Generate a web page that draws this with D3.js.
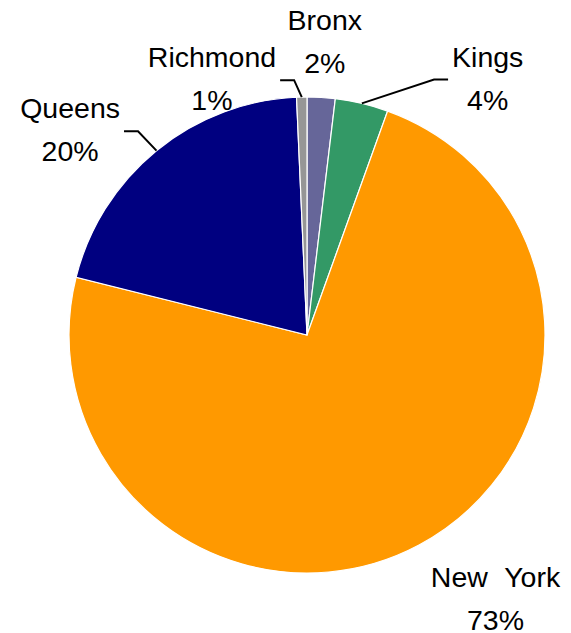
<!DOCTYPE html>
<html>
<head>
<meta charset="utf-8">
<script src="https://cdn.jsdelivr.net/npm/d3@7"></script>
<style>
  body { margin: 0; background: #fff; }
  text { font-family: "Liberation Sans", Arial, sans-serif; font-size: 28.5px; fill: #000; }
</style>
</head>
<body>
<svg width="571" height="633"></svg>
<script>
// borough shares, clockwise from 12 o'clock
var boroughs = ["Bronx", "Kings", "New York", "Queens", "Richmond"];
var shares = [1.9, 3.6, 73.4, 20.4, 0.7];
var colors = ["#666699", "#339966", "#ff9900", "#000080", "#969696"];

// label placement: angle (deg) and distance from centre, leader side
var labelAngle = [3.6, 36.2, 145.4, 309.5, 338.9];
var labelDist = [284, 306, 332, 307, 264];
var leader = [null, "left", null, "right", "right"];

var svg = d3.select("svg"),
  cx = 307,
  cy = 335,
  radius = 238;

var g = svg.append("g").attr("transform", "translate(" + cx + "," + cy + ")");

var data = boroughs.map(function (d, i) {
  return { name: d, value: shares[i], color: colors[i], i: i };
});

var pie = d3.pie().sort(null).value(function (d) { return d.value; });
var arc = d3.arc().innerRadius(0).outerRadius(radius);
var total = d3.sum(shares);
var pct = function (v) { return Math.round(v / total * 100) + "%"; };

var arcs = pie(data);

g.selectAll(".slice")
  .data(arcs)
  .enter()
  .append("path")
  .attr("class", "slice")
  .attr("d", arc)
  .attr("fill", function (d) { return d.data.color; })
  .attr("stroke", "#fff")
  .attr("stroke-width", 1.2);

var half = 21.5;

arcs.forEach(function (d, i) {
  var a = labelAngle[i] * Math.PI / 180;
  var lx = labelDist[i] * Math.sin(a),
    ly = -labelDist[i] * Math.cos(a);

  var t = g.append("text").attr("text-anchor", "middle");
  t.append("tspan").attr("x", lx).attr("y", ly - half)
    .style("word-spacing", "9px").text(d.data.name);
  t.append("tspan").attr("x", lx).attr("y", ly + half).text(pct(d.data.value));

  if (leader[i]) {
    var w = t.node().getBBox().width;
    var mid = (d.startAngle + d.endAngle) / 2;
    var p0 = [radius * Math.sin(mid), -radius * Math.cos(mid)];
    var dir = leader[i] === "left" ? -1 : 1;
    var edge = lx + dir * (w / 2 + 4);
    var ky = ly - 8.5;
    g.append("path")
      .attr("d", d3.line()([p0, [edge + dir * 14, ky], [edge, ky]]))
      .attr("fill", "none")
      .attr("stroke", "#000")
      .attr("stroke-width", 2);
  }
});
</script>
</body>
</html>
